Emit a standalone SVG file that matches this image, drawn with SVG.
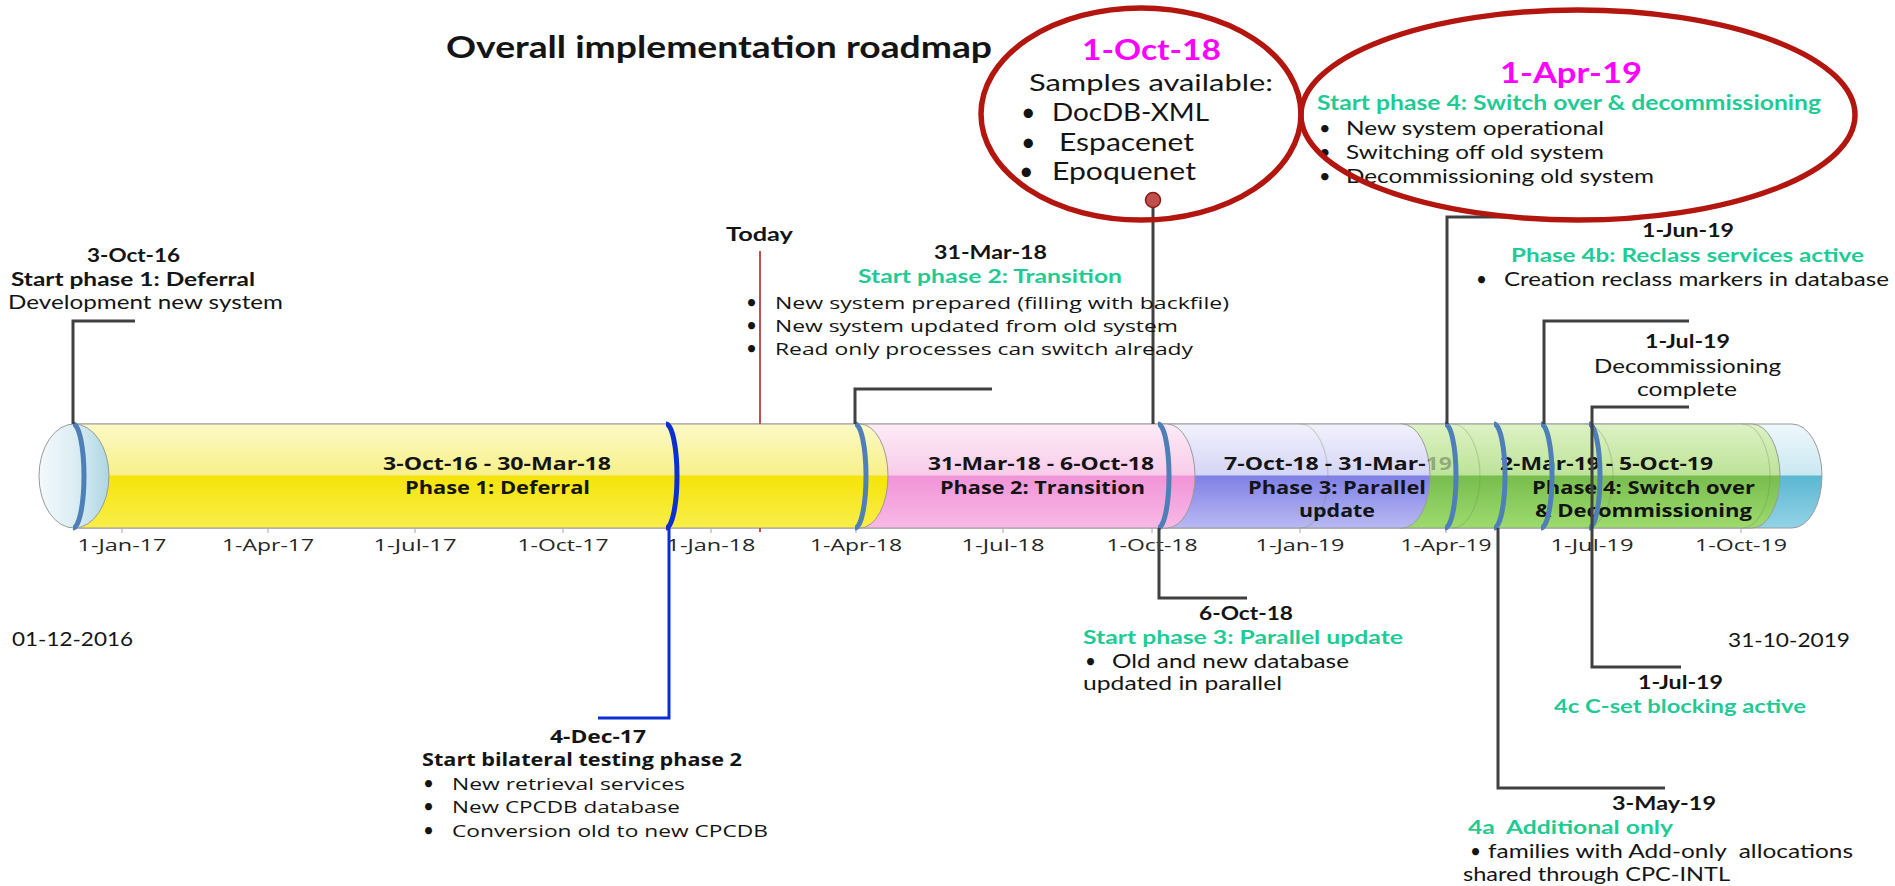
<svg xmlns="http://www.w3.org/2000/svg" width="1895" height="886" viewBox="0 0 1895 886">
<defs>
<style>
.t{font-family:Lato,"Liberation Sans",sans-serif;fill:#141414}
.o{font-family:"Open Sans","Liberation Sans",sans-serif;fill:#141414}
.bu{font-family:Lato,"Liberation Sans",sans-serif;fill:#141414;font-size:19px}
.b{font-weight:bold}
.gr{fill:#1FCB95}
.mg{fill:#FF00FF}
.ax{font-family:"Open Sans","Liberation Sans",sans-serif;fill:#262626;font-size:17px}
.conn{fill:none;stroke:#404040;stroke-width:3}
.ring{fill:none;stroke:#4F7FB8;stroke-width:5}
.seg{stroke:#9A9A9A;stroke-width:1}
.faint{fill:none;stroke:#6E8A5A;stroke-opacity:0.3;stroke-width:1.2}
.oval{fill:none;stroke:#B2160E;stroke-width:5.5}
</style>
<linearGradient id="gY" x1="0" y1="0" x2="0" y2="1"><stop offset="0" stop-color="#FCF9C6"/><stop offset="0.49" stop-color="#F8F08A"/><stop offset="0.5" stop-color="#F5E40A"/><stop offset="1" stop-color="#F9EE4A"/></linearGradient>
<linearGradient id="gP" x1="0" y1="0" x2="0" y2="1"><stop offset="0" stop-color="#FDEBF6"/><stop offset="0.49" stop-color="#F8CCEA"/><stop offset="0.5" stop-color="#F194D8"/><stop offset="1" stop-color="#F8B9E6"/></linearGradient>
<linearGradient id="gV" x1="0" y1="0" x2="0" y2="1"><stop offset="0" stop-color="#F1F1FD"/><stop offset="0.49" stop-color="#D5D5F6"/><stop offset="0.5" stop-color="#8080E6"/><stop offset="1" stop-color="#B9B9F3"/></linearGradient>
<linearGradient id="gG" x1="0" y1="0" x2="0" y2="1"><stop offset="0" stop-color="#DDF2C4"/><stop offset="0.49" stop-color="#BDE399"/><stop offset="0.5" stop-color="#79BD4F"/><stop offset="1" stop-color="#9DDB6D"/></linearGradient>
<linearGradient id="gB" x1="0" y1="0" x2="0" y2="1"><stop offset="0" stop-color="#EEF8FC"/><stop offset="0.49" stop-color="#CBE8F1"/><stop offset="0.5" stop-color="#5BB7D2"/><stop offset="1" stop-color="#93D3E6"/></linearGradient>
<linearGradient id="gC" x1="0" y1="0" x2="1" y2="0"><stop offset="0" stop-color="#F3F9FC"/><stop offset="0.5" stop-color="#DCEEF4"/><stop offset="1" stop-color="#ADD6E2"/></linearGradient>
</defs>
<rect width="1895" height="886" fill="#FFFFFF"/>

<g id="title">
<text class="t b" x="446" y="58" font-size="30" textLength="546" lengthAdjust="spacingAndGlyphs">Overall implementation roadmap</text>
</g>

<g id="timeline-bar">
<path class="seg" fill="url(#gB)" d="M74,424 H1792 A30,52 0 0 1 1792,528 H74 Z"/>
<path class="seg" fill="url(#gG)" d="M1400,424 H1752 A28,52 0 0 1 1752,528 H1400 Z"/>
<path class="seg" fill="url(#gV)" d="M1160,424 H1402 A28,52 0 0 1 1402,528 H1160 Z"/>
<path class="seg" fill="url(#gP)" d="M855,424 H1167 A28,52 0 0 1 1167,528 H855 Z"/>
<path class="seg" fill="url(#gY)" d="M74,424 H860 A28,52 0 0 1 860,528 H74 Z"/>
<ellipse class="seg" cx="74" cy="476" rx="35" ry="52" fill="url(#gC)"/>
<path class="faint" d="M1300,424 A28,52 0 0 1 1300,528"/>
<path class="faint" d="M1452,424 A28,52 0 0 1 1452,528"/>
<path class="faint" d="M1585,424 A28,52 0 0 1 1585,528"/>
<path class="faint" d="M1742,424 A28,52 0 0 1 1742,528"/>
<g stroke="#A8A8A8" stroke-width="1">
<path d="M122,528 V533 M268,528 V533 M415,528 V533 M563,528 V533 M711,528 V533 M856,528 V533 M1003,528 V533 M1152,528 V533 M1300,528 V533 M1446,528 V533 M1592,528 V533 M1741,528 V533"/>
</g>
</g>

<g id="phase-labels">
<text class="o b" x="383" y="470" font-size="18" textLength="228" lengthAdjust="spacingAndGlyphs">3-Oct-16 - 30-Mar-18</text>
<text class="o b" x="405" y="494" font-size="18" textLength="185" lengthAdjust="spacingAndGlyphs">Phase 1: Deferral</text>
<text class="o b" x="928" y="470" font-size="18" textLength="226" lengthAdjust="spacingAndGlyphs">31-Mar-18 - 6-Oct-18</text>
<text class="o b" x="940" y="494" font-size="18" textLength="205" lengthAdjust="spacingAndGlyphs">Phase 2: Transition</text>
<text class="o b" x="1224" y="470" font-size="18" textLength="228" lengthAdjust="spacingAndGlyphs">7-Oct-18 - 31-Mar-<tspan fill-opacity="0.3">19</tspan></text>
<text class="o b" x="1248" y="494" font-size="18" textLength="178" lengthAdjust="spacingAndGlyphs">Phase 3: Parallel</text>
<text class="o b" x="1299" y="517" font-size="18" textLength="76" lengthAdjust="spacingAndGlyphs">update</text>
<text class="o b" x="1500" y="470" font-size="18" textLength="213" lengthAdjust="spacingAndGlyphs">2-Mar-19 - 5-Oct-19</text>
<text class="o b" x="1532" y="494" font-size="18" textLength="223" lengthAdjust="spacingAndGlyphs">Phase 4: Switch over</text>
<text class="o b" x="1535" y="517" font-size="18" textLength="217" lengthAdjust="spacingAndGlyphs">&amp; Decommissioning</text>
</g>

<g id="rings">
<path class="ring" d="M73,424 A11,52 0 0 1 73,528"/>
<path d="M666,424 A11,52 0 0 1 666,528" fill="none" stroke="#0C2FD2" stroke-width="5"/>
<path class="ring" d="M855,424 A11,52 0 0 1 855,528"/>
<path class="ring" d="M1158,424 A11,52 0 0 1 1158,528"/>
<path class="ring" d="M1445,424 A11,52 0 0 1 1445,528"/>
<path class="ring" d="M1494,424 A11,52 0 0 1 1494,528"/>
<path class="ring" d="M1541,424 A11,52 0 0 1 1541,528"/>
<path class="ring" d="M1589,424 A11,52 0 0 1 1589,528"/>
</g>

<g id="axis">
<text class="ax" x="122" y="551" text-anchor="middle" textLength="89" lengthAdjust="spacingAndGlyphs">1-Jan-17</text>
<text class="ax" x="268" y="551" text-anchor="middle" textLength="92" lengthAdjust="spacingAndGlyphs">1-Apr-17</text>
<text class="ax" x="415" y="551" text-anchor="middle" textLength="83" lengthAdjust="spacingAndGlyphs">1-Jul-17</text>
<text class="ax" x="563" y="551" text-anchor="middle" textLength="91" lengthAdjust="spacingAndGlyphs">1-Oct-17</text>
<text class="ax" x="711" y="551" text-anchor="middle" textLength="89" lengthAdjust="spacingAndGlyphs">1-Jan-18</text>
<text class="ax" x="856" y="551" text-anchor="middle" textLength="92" lengthAdjust="spacingAndGlyphs">1-Apr-18</text>
<text class="ax" x="1003" y="551" text-anchor="middle" textLength="83" lengthAdjust="spacingAndGlyphs">1-Jul-18</text>
<text class="ax" x="1152" y="551" text-anchor="middle" textLength="91" lengthAdjust="spacingAndGlyphs">1-Oct-18</text>
<text class="ax" x="1300" y="551" text-anchor="middle" textLength="89" lengthAdjust="spacingAndGlyphs">1-Jan-19</text>
<text class="ax" x="1446" y="551" text-anchor="middle" textLength="91" lengthAdjust="spacingAndGlyphs">1-Apr-19</text>
<text class="ax" x="1592" y="551" text-anchor="middle" textLength="83" lengthAdjust="spacingAndGlyphs">1-Jul-19</text>
<text class="ax" x="1741" y="551" text-anchor="middle" textLength="92" lengthAdjust="spacingAndGlyphs">1-Oct-19</text>
<text class="t" x="12" y="646" font-size="19" textLength="121" lengthAdjust="spacingAndGlyphs">01-12-2016</text>
<text class="t" x="1728" y="647" font-size="19" textLength="122" lengthAdjust="spacingAndGlyphs">31-10-2019</text>
</g>

<g id="connectors">
<path d="M760,251 V424 M760,528 V532" fill="none" stroke="#C0504D" stroke-width="2"/>
<path class="conn" d="M135,321 H73 V424"/>
<path class="conn" d="M992,389 H855 V424"/>
<path class="conn" d="M1153,200 V424"/>
<path class="conn" d="M1520,217 H1447 V424"/>
<path class="conn" d="M1689,321 H1544 V424"/>
<path class="conn" d="M1689,407 H1592 V667 H1681"/>
<path class="conn" d="M1498,528 V788 H1665"/>
<path class="conn" d="M1159,528 V598 H1247"/>
<path d="M669,528 V718 H598" fill="none" stroke="#0C2FD2" stroke-width="3"/>
<circle cx="1153" cy="200" r="7.5" fill="#C0504D" stroke="#8C1A14" stroke-width="1.5"/>
</g>

<g id="today">
<text class="t b" x="726" y="241" font-size="19" textLength="67" lengthAdjust="spacingAndGlyphs">Today</text>
</g>

<g id="start-phase-1">
<text class="t b" x="87" y="262" font-size="19" textLength="93" lengthAdjust="spacingAndGlyphs">3-Oct-16</text>
<text class="t b" x="11" y="286" font-size="19" textLength="244" lengthAdjust="spacingAndGlyphs">Start phase 1: Deferral</text>
<text class="t" x="8" y="309" font-size="19" textLength="275" lengthAdjust="spacingAndGlyphs">Development new system</text>
</g>

<g id="start-phase-2">
<text class="t b" x="934" y="259" font-size="19" textLength="113" lengthAdjust="spacingAndGlyphs">31-Mar-18</text>
<text class="t b gr" x="858" y="283" font-size="19" textLength="264" lengthAdjust="spacingAndGlyphs">Start phase 2: Transition</text>
<text class="bu" x="746" y="309">•</text>
<text class="o" x="775" y="309" font-size="17" textLength="454" lengthAdjust="spacingAndGlyphs">New system prepared (filling with backfile)</text>
<text class="bu" x="746" y="332">•</text>
<text class="o" x="775" y="332" font-size="17" textLength="403" lengthAdjust="spacingAndGlyphs">New system updated from old system</text>
<text class="bu" x="746" y="355">•</text>
<text class="o" x="775" y="355" font-size="17" textLength="418" lengthAdjust="spacingAndGlyphs">Read only processes can switch already</text>
</g>

<g id="milestone-1-oct-18">
<text class="t b mg" x="1082" y="60" font-size="29" textLength="139" lengthAdjust="spacingAndGlyphs">1-Oct-18</text>
<text class="t" x="1029" y="91" font-size="23" textLength="244" lengthAdjust="spacingAndGlyphs">Samples available:</text>
<text class="t" x="1021" y="121" font-size="25">•</text>
<text class="t" x="1052" y="121" font-size="25" textLength="157" lengthAdjust="spacingAndGlyphs">DocDB-XML</text>
<text class="t" x="1021" y="151" font-size="25">•</text>
<text class="t" x="1059" y="151" font-size="25" textLength="135" lengthAdjust="spacingAndGlyphs">Espacenet</text>
<text class="t" x="1019" y="180" font-size="25">•</text>
<text class="t" x="1052" y="180" font-size="25" textLength="144" lengthAdjust="spacingAndGlyphs">Epoquenet</text>
<ellipse class="oval" cx="1141" cy="114" rx="160" ry="106"/>
</g>

<g id="milestone-1-apr-19">
<text class="t b mg" x="1500" y="83" font-size="29" textLength="142" lengthAdjust="spacingAndGlyphs">1-Apr-19</text>
<text class="t b gr" x="1317" y="110" font-size="20" textLength="504" lengthAdjust="spacingAndGlyphs">Start phase 4: Switch over &amp; decommissioning</text>
<text class="t" x="1319" y="135" font-size="20">•</text>
<text class="t" x="1346" y="135" font-size="20" textLength="258" lengthAdjust="spacingAndGlyphs">New system operational</text>
<text class="t" x="1319" y="159" font-size="20">•</text>
<text class="t" x="1346" y="159" font-size="20" textLength="258" lengthAdjust="spacingAndGlyphs">Switching off old system</text>
<text class="t" x="1319" y="183" font-size="20">•</text>
<text class="t" x="1346" y="183" font-size="20" textLength="308" lengthAdjust="spacingAndGlyphs">Decommissioning old system</text>
<ellipse class="oval" cx="1578" cy="115" rx="277" ry="105"/>
</g>

<g id="phase-4b">
<text class="t b" x="1642" y="237" font-size="19" textLength="92" lengthAdjust="spacingAndGlyphs">1-Jun-19</text>
<text class="t b gr" x="1511" y="262" font-size="19" textLength="353" lengthAdjust="spacingAndGlyphs">Phase 4b: Reclass services active</text>
<text class="t" x="1476" y="286" font-size="19">•</text>
<text class="t" x="1504" y="286" font-size="19" textLength="385" lengthAdjust="spacingAndGlyphs">Creation reclass markers in database</text>
</g>

<g id="decommissioning-complete">
<text class="t b" x="1645" y="348" font-size="19" textLength="85" lengthAdjust="spacingAndGlyphs">1-Jul-19</text>
<text class="t" x="1594" y="373" font-size="19" textLength="187" lengthAdjust="spacingAndGlyphs">Decommissioning</text>
<text class="t" x="1637" y="396" font-size="19" textLength="100" lengthAdjust="spacingAndGlyphs">complete</text>
</g>

<g id="bilateral-testing">
<text class="o b" x="550" y="743" font-size="18" textLength="96" lengthAdjust="spacingAndGlyphs">4-Dec-17</text>
<text class="o b" x="422" y="766" font-size="18" textLength="320" lengthAdjust="spacingAndGlyphs">Start bilateral testing phase 2</text>
<text class="bu" x="423" y="790">•</text>
<text class="o" x="452" y="790" font-size="17" textLength="233" lengthAdjust="spacingAndGlyphs">New retrieval services</text>
<text class="bu" x="423" y="813">•</text>
<text class="o" x="452" y="813" font-size="17" textLength="228" lengthAdjust="spacingAndGlyphs">New CPCDB database</text>
<text class="bu" x="423" y="837">•</text>
<text class="o" x="452" y="837" font-size="17" textLength="316" lengthAdjust="spacingAndGlyphs">Conversion old to new CPCDB</text>
</g>

<g id="start-phase-3">
<text class="t b" x="1199" y="620" font-size="19" textLength="94" lengthAdjust="spacingAndGlyphs">6-Oct-18</text>
<text class="t b gr" x="1083" y="644" font-size="19" textLength="320" lengthAdjust="spacingAndGlyphs">Start phase 3: Parallel update</text>
<text class="t" x="1085" y="668" font-size="19">•</text>
<text class="t" x="1112" y="668" font-size="19" textLength="237" lengthAdjust="spacingAndGlyphs">Old and new database</text>
<text class="t" x="1083" y="690" font-size="19" textLength="199" lengthAdjust="spacingAndGlyphs">updated in parallel</text>
</g>

<g id="phase-4c">
<text class="t b" x="1638" y="689" font-size="19" textLength="85" lengthAdjust="spacingAndGlyphs">1-Jul-19</text>
<text class="t b gr" x="1554" y="713" font-size="19" textLength="252" lengthAdjust="spacingAndGlyphs">4c C-set blocking active</text>
</g>

<g id="phase-4a">
<text class="t b" x="1612" y="810" font-size="19" textLength="104" lengthAdjust="spacingAndGlyphs">3-May-19</text>
<text class="t b gr" x="1468" y="834" font-size="19" textLength="205" lengthAdjust="spacingAndGlyphs" xml:space="preserve">4a  Additional only</text>
<text class="t" x="1470" y="858" font-size="19">•</text>
<text class="t" x="1488" y="858" font-size="19" textLength="365" lengthAdjust="spacingAndGlyphs" xml:space="preserve">families with Add-only  allocations</text>
<text class="t" x="1463" y="881" font-size="19" textLength="267" lengthAdjust="spacingAndGlyphs">shared through CPC-INTL</text>
</g>
</svg>
